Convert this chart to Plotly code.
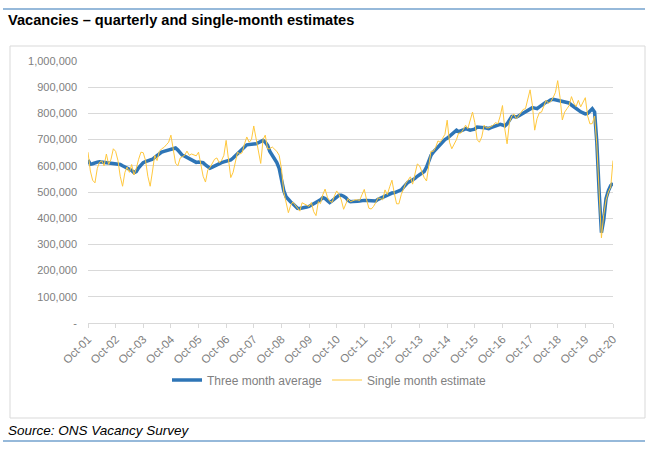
import pandas as pd
import plotly.graph_objects as go

# monthly points, Oct-01 .. Oct-20 (thousands)
months = pd.date_range("2001-10-01", "2020-10-01", freq="MS")

three_month_avg = [
    622, 606, 608,
    612, 614, 615, 614, 613, 613, 612, 611, 610, 609, 608, 605,
    600, 596, 592, 588, 582, 574, 578, 592, 603, 612, 616, 618,
    620, 625, 632, 640, 648, 652, 655, 658, 660, 663, 666, 668,
    660, 648, 640, 637, 632, 628, 624, 618, 613, 614, 613, 612,
    603, 595, 591, 595, 600, 605, 608, 612, 615, 617, 619, 622,
    630, 638, 645, 652, 660, 672, 680, 682, 682, 683, 684, 688,
    695, 697, 690, 678, 655, 640, 628, 612, 590, 548, 505, 482,
    470, 462, 455, 445, 438, 437, 440, 443, 443, 445, 450, 455,
    460, 463, 470, 479, 475, 467, 460, 466, 472, 480, 488, 488,
    484, 478, 468, 463, 464, 466, 465, 466, 468, 468, 468, 467,
    466, 465, 466, 472, 476, 480, 485, 490, 493, 496, 497, 500,
    503, 508, 518, 528, 537, 541, 545, 552, 560, 565, 572, 578,
    595, 622, 640, 652, 662, 672, 682, 690, 700, 705, 712, 722,
    730, 736, 730, 732, 737, 742, 738, 736, 738, 740, 748, 748,
    746, 745, 744, 742, 746, 749, 751, 754, 758, 756, 752, 760,
    774, 788, 788, 786, 790, 795, 800, 805, 812, 816, 822, 820,
    818, 825, 832, 838, 843, 846, 852, 854, 852, 851, 850, 849,
    847, 845, 840, 832, 825, 819, 812, 806, 802, 798, 800, 810,
    818, 805, 690, 500, 345, 395, 475, 505, 525, 533,
]

single_month = [
    652, 580, 545,
    535, 590, 613, 619, 600, 645, 605, 625, 665, 655, 620, 560,
    522, 575, 595, 575, 605, 565, 590, 625, 652, 650, 620, 560,
    522, 580, 640, 620, 655, 665, 670, 680, 690, 717, 660, 610,
    600, 630, 635, 640, 656, 640, 645, 642, 638, 652, 605, 560,
    538, 585, 593, 610, 625, 630, 612, 620, 640, 697, 620, 555,
    575, 615, 652, 645, 650, 684, 710, 690, 700, 752, 700, 650,
    609, 700, 717, 665, 665, 672, 665, 655, 640, 590, 500, 460,
    421, 450, 462, 450, 440, 427, 459, 455, 450, 445, 460, 425,
    410, 463, 456, 490, 511, 480, 465, 460, 485, 504, 490, 470,
    434, 460, 475, 463, 468, 470, 470, 468, 490, 510, 470, 438,
    435, 445, 460, 478, 475, 470, 508, 490, 520, 545, 495, 455,
    455, 490, 510, 533, 545, 558, 530, 570, 607, 600, 575, 555,
    542, 600, 656, 655, 670, 695, 690, 705, 720, 774, 690, 665,
    680, 700, 725, 725, 738, 755, 742, 770, 805, 765, 700, 690,
    710, 755, 745, 745, 750, 755, 765, 760, 790, 830, 740, 684,
    765, 790, 798, 780, 790, 805, 815, 818, 860, 890, 830, 736,
    780, 803, 805, 830, 850, 839, 845, 860, 880, 925, 860, 775,
    805, 818, 830, 864, 840, 826, 850, 825, 845, 860, 790, 760,
    761, 790, 680, 470, 325, 415, 470, 500, 520, 620,
]

y_ticks = [0, 100000, 200000, 300000, 400000, 500000, 600000, 700000, 800000, 900000, 1000000]
y_labels = ["-", "100,000", "200,000", "300,000", "400,000", "500,000",
            "600,000", "700,000", "800,000", "900,000", "1,000,000"]

fnt = "Liberation Sans, Arial, sans-serif"
gray = "#808080"

fig = go.Figure()
fig.add_trace(go.Scatter(x=months, y=[v * 1000 for v in three_month_avg], mode="lines",
                         name="Three month average", line=dict(color="#2E75B6", width=3.5)))
fig.add_trace(go.Scatter(x=months, y=[v * 1000 for v in single_month], mode="lines",
                         name="Single month estimate", line=dict(color="#FFC83D", width=1)))

# plot area: x 88..613, y 61..323 (pixels)
W, H = 668, 466
L, R, T, B = 88, 613, 61, 323
def px(x):
    return (x - L) / (R - L)
def py(y):
    return (B - y) / (B - T)

fig.update_layout(
    width=W, height=H,
    margin=dict(l=L, r=W - R, t=T, b=H - B),
    paper_bgcolor="white", plot_bgcolor="white",
    font=dict(family=fnt, size=11, color=gray),
    showlegend=True,
    legend=dict(orientation="h", x=px(167), y=py(380), xanchor="left", yanchor="middle",
                font=dict(size=12, color=gray), itemwidth=30, tracegroupgap=0),
    xaxis=dict(type="date", range=[months[0], months[-1]],
               tickvals=[d for d in months if d.month == 10], tickformat="%b-%y",
               tickangle=-45, ticks="outside", ticklen=4, tickcolor="#d9d9d9",
               showgrid=False, showline=True, linecolor="#d9d9d9", linewidth=1,
               tickfont=dict(size=11.5, color=gray), zeroline=False, fixedrange=True),
    yaxis=dict(range=[0, 1000000], tickvals=y_ticks, ticktext=y_labels,
               showgrid=True, gridcolor="#d9d9d9", gridwidth=1, zeroline=False,
               showline=False, ticks="", tickfont=dict(size=11, color=gray),
               ticklabelstandoff=10, fixedrange=True),
    shapes=[
        dict(type="rect", xref="paper", yref="paper", x0=px(10), x1=px(645), y0=py(418), y1=py(46),
             line=dict(color="#d9d9d9", width=1), layer="below"),
        dict(type="line", xref="paper", yref="paper", x0=px(3), x1=px(645), y0=py(9), y1=py(9),
             line=dict(color="#2E75B6", width=1.2)),
        dict(type="line", xref="paper", yref="paper", x0=px(3), x1=px(645), y0=py(441), y1=py(441),
             line=dict(color="#2E75B6", width=1.2)),
    ],
    annotations=[
        dict(text="<b>Vacancies – quarterly and single-month estimates</b>", xref="paper", yref="paper",
             x=px(6), y=py(20), xanchor="left", yanchor="middle", showarrow=False,
             font=dict(size=14.6, color="black", family=fnt)),
        dict(text="<i>Source: ONS Vacancy Survey</i>", xref="paper", yref="paper",
             x=px(6), y=py(430), xanchor="left", yanchor="middle", showarrow=False,
             font=dict(size=13.5, color="black", family=fnt)),
    ],
)

# drop the default 8px page margin so the figure sits at the window's corner
fig.write_html("out.html", config={"displayModeBar": False},
               post_script="document.body.style.margin='0';")
